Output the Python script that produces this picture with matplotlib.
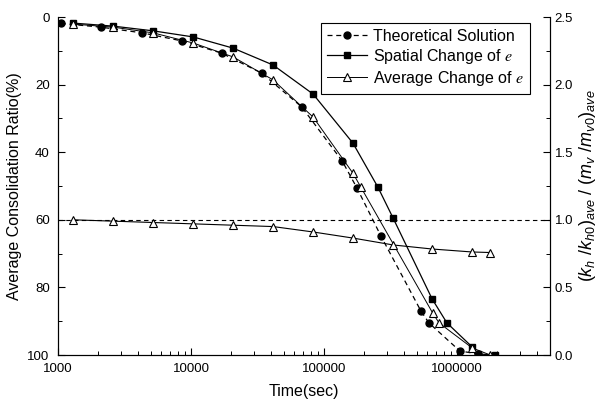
import numpy as np
import matplotlib.pyplot as plt
from matplotlib.ticker import FixedLocator, LogLocator, FuncFormatter, MultipleLocator, NullFormatter

plt.rcParams['font.family'] = ['Liberation Sans', 'DejaVu Sans']
plt.rcParams['mathtext.fontset'] = 'custom'
plt.rcParams['mathtext.it'] = 'Liberation Sans:italic'
plt.rcParams['mathtext.rm'] = 'Liberation Sans'

# 平均固结度 (%)
t_theory = [1050, 2100, 4300, 8600, 17000, 34000, 68000, 137000, 177000, 268000, 536000, 615000, 1050000, 1440000]
u_theory = [1.9, 3.0, 4.7, 7.1, 10.7, 16.6, 26.6, 42.6, 50.6, 64.8, 87.0, 90.5, 98.8, 99.7]

t_spatial = [1300, 2600, 5200, 10400, 20700, 41400, 82800, 165000, 254000, 331000, 650000, 840000, 1300000, 1440000, 1940000]
u_spatial = [1.8, 2.7, 4.1, 5.9, 9.2, 14.2, 22.8, 37.3, 50.3, 59.5, 83.4, 90.5, 97.6, 99.7, 100.0]

t_avg = [1300, 2600, 5200, 10400, 20700, 41400, 82800, 165000, 189000, 657000, 733000, 1300000, 1780000]
u_avg = [2.1, 3.0, 4.7, 7.7, 11.8, 18.6, 29.6, 46.2, 50.3, 87.6, 90.5, 97.9, 100.0]

# (kh/kh0)ave / (mv/mv0)ave
t_ratio = [1300, 2600, 5200, 10400, 20700, 41400, 82800, 165000, 331000, 650000, 1300000, 1780000]
ratio = [1.00, 0.99, 0.98, 0.97, 0.96, 0.95, 0.91, 0.865, 0.814, 0.784, 0.762, 0.758]

x_ticks = [1000, 10000, 100000, 1000000]

fig = plt.figure(figsize=(6.03, 4.01), dpi=100)
ax = fig.add_axes([0.0962, 0.1147, 0.8158, 0.8429])
ax2 = ax.twinx()

ax.plot(t_theory, u_theory, linestyle=(0, (4, 3)), color='black', lw=0.9,
        marker='o', ms=5, mfc='black', mec='black', label='Theoretical Solution')
ax.plot(t_spatial, u_spatial, linestyle='-', color='black', lw=0.9,
        marker='s', ms=4.5, mfc='black', mec='black', label='Spatial Change of $e$')
ax.plot(t_avg, u_avg, linestyle='-', color='black', lw=0.7,
        marker='^', ms=6, mfc='white', mec='black', mew=0.8, label='Average Change of $e$')

ax2.axhline(1.0, color='black', lw=0.8, linestyle=(0, (4, 3)))
ax2.plot(t_ratio, ratio, linestyle='-', color='black', lw=0.8,
         marker='^', ms=6, mfc='white', mec='black', mew=0.8)

ax.set_xscale('log')
ax.set_xlim(1000, 5e6)
ax.set_ylim(100, 0)
ax2.set_ylim(0, 2.5)

ax.xaxis.set_major_locator(FixedLocator(x_ticks))
ax.xaxis.set_major_formatter(FuncFormatter(lambda v, p: '%d' % v))
ax.xaxis.set_minor_locator(LogLocator(base=10, subs=np.arange(2, 10)))
ax.xaxis.set_minor_formatter(NullFormatter())
ax.yaxis.set_major_locator(MultipleLocator(20))
ax.yaxis.set_minor_locator(MultipleLocator(10))
ax2.yaxis.set_major_locator(MultipleLocator(0.5))
ax2.yaxis.set_minor_locator(MultipleLocator(0.25))
ax2.yaxis.set_major_formatter(FuncFormatter(lambda v, p: '%.1f' % v))

for a in (ax, ax2):
    a.spines['top'].set_visible(False)
    a.tick_params(which='major', direction='in', length=5, width=0.8, labelsize=9.5)
    a.tick_params(which='minor', direction='in', length=3, width=0.7)
ax.tick_params(axis='x', pad=6)
ax.tick_params(axis='y', pad=6)

ax.set_xlabel('Time(sec)', fontsize=11.5, labelpad=6)
ax.set_ylabel('Average Consolidation Ratio(%)', fontsize=11.5, labelpad=4)
ax2.set_ylabel(r'$(k_h\ /k_{h0})_{ave}\ /\ (m_v\ /m_{v0})_{ave}$', fontsize=13, labelpad=3)

leg = ax.legend(loc='upper right', bbox_to_anchor=(0.959, 0.982), borderaxespad=0,
                fontsize=11.5, frameon=True, fancybox=False, edgecolor='black', framealpha=1,
                handlelength=2.5, borderpad=0.35, labelspacing=0.2, handletextpad=0.4)
leg.get_frame().set_linewidth(0.8)
for txt in leg.get_texts():
    txt.set_math_fontfamily('stix')

fig.savefig('out.png', dpi=100)
